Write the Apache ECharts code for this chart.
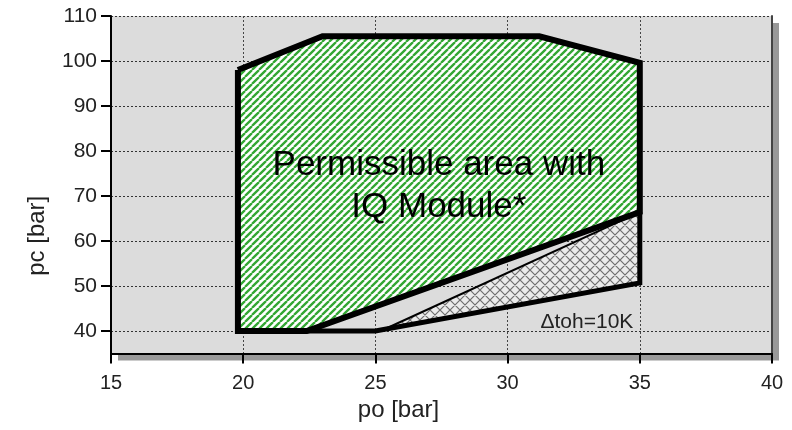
<!DOCTYPE html>
<html>
<head>
<meta charset="utf-8">
<script src="https://cdn.jsdelivr.net/npm/echarts@6.0.0/dist/echarts.min.js"></script>
<style>
  html, body { margin: 0; padding: 0; background: #fff; }
  #chart { width: 792px; height: 430px; }
</style>
</head>
<body>
<div id="chart"></div>
<script>
// outline of the permissible area (po, pc)
const areaPo = [19.8, 23.0, 31.2, 35.0, 35.0, 22.4, 19.8, 19.8];
const areaPc = [98.0, 105.5, 105.5, 99.6, 66.4, 40.0, 40.0, 98.0];

// cross hatched zone (dtoh = 10K)
const zonePo = [25.2, 35.0, 35.0, 25.0];
const zonePc = [40.0, 66.4, 50.7, 40.0];

// lower limit line and thin upper edge of the zone
const lowerPo = [22.4, 25.0, 35.0, 35.0];
const lowerPc = [40.0, 40.0, 50.7, 66.4];
const edgePo = [25.2, 35.0];
const edgePc = [40.0, 66.4];

const pcTicks = [40, 50, 60, 70, 80, 90, 100, 110];

// annotations: anchor (po, pc) and text
const notePo = [27.4, 33.0];
const notePc = [72.2, 42.0];
const noteText = ['Permissible area with\nIQ Module*', 'Δtoh=10K'];

const font = 'Liberation Sans, Arial, sans-serif';

const pairs = (xs, ys) => xs.map((x, i) => [x, ys[i]]);

function makeHatch(size, bg, color, width, both) {
    const c = document.createElement('canvas');
    c.width = c.height = size;
    const g = c.getContext('2d');
    g.fillStyle = bg;
    g.fillRect(0, 0, size, size);
    g.strokeStyle = color;
    g.lineWidth = width;
    g.beginPath();
    for (const o of [-size, 0, size]) {
        g.moveTo(o, size);
        g.lineTo(o + size, 0);
    }
    if (both) {
        for (const o of [-size, 0, size]) {
            g.moveTo(o, 0);
            g.lineTo(o + size, size);
        }
    }
    g.stroke();
    return { image: c, repeat: 'repeat' };
}

const greenHatch = makeHatch(7, '#ffffff', '#33a633', 2.3, false);
const greyHatch = makeHatch(10, '#ebebeb', '#6e6e6e', 1.2, true);

function polygon(fill) {
    return (params, api) => {
        if (params.dataIndex !== 0) return;
        const pts = [];
        for (let i = 0; i < params.dataInsideLength; i++) {
            pts.push(api.coord([api.value(0, i), api.value(1, i)]));
        }
        return { type: 'polygon', shape: { points: pts }, style: { fill: fill } };
    };
}

function note(params, api) {
    const p = api.coord([api.value(0), api.value(1)]);
    const big = params.dataIndex === 0;
    return {
        type: 'text', x: p[0], y: p[1],
        style: {
            text: noteText[params.dataIndex],
            fill: big ? '#000' : '#222',
            font: (big ? 35 : 21) + 'px ' + font,
            lineHeight: big ? 42 : 21,
            align: 'center', verticalAlign: 'middle'
        }
    };
}

const myChart = echarts.init(document.getElementById('chart'));

const option = {
    animation: false,
    grid: {
        left: 111, right: 20, top: 16, bottom: 76.5,
        show: true,
        backgroundColor: '#dcdcdc',
        borderWidth: 0,
        shadowColor: '#999',
        shadowOffsetX: 7,
        shadowOffsetY: 7,
        shadowBlur: 0
    },
    xAxis: {
        type: 'value', min: 15, max: 40, interval: 5,
        axisLine: { show: true, onZero: false, lineStyle: { color: '#000', width: 2 } },
        axisTick: { show: true, length: 10, lineStyle: { color: '#000', width: 2 } },
        axisLabel: { margin: 20, fontSize: 20, color: '#222', fontFamily: font },
        splitLine: { show: true, lineStyle: { color: '#444', type: [2, 2], width: 1 } },
        name: 'po [bar]', nameLocation: 'middle', nameGap: 42,
        nameTextStyle: { fontSize: 24, color: '#222', fontFamily: font, padding: [0, 86, 0, 0] }
    },
    yAxis: [
        {
            type: 'value', min: 35, max: 110,
            axisLine: { show: true, onZero: false, lineStyle: { color: '#000', width: 2 } },
            axisTick: { show: true, length: 10, customValues: pcTicks, lineStyle: { color: '#000', width: 2 } },
            axisLabel: { margin: 14, fontSize: 21, color: '#222', fontFamily: font, customValues: pcTicks },
            splitLine: { show: true, lineStyle: { color: '#333', type: [2, 2], width: 1 } },
            name: 'pc [bar]', nameLocation: 'middle', nameGap: 62, nameRotate: 90,
            nameTextStyle: { fontSize: 24, color: '#222', fontFamily: font, padding: [0, 102, 0, 0] }
        },
        {
            // solid right frame edge
            type: 'value', min: 35, max: 110, position: 'right',
            axisLine: { show: true, onZero: false, lineStyle: { color: '#444', width: 2 } },
            axisTick: { show: false },
            axisLabel: { show: false },
            splitLine: { show: false }
        }
    ],
    series: [
        {
            type: 'custom', renderItem: polygon(greenHatch), data: pairs(areaPo, areaPc),
            encode: { x: 0, y: 1 }, silent: true, z: 2
        },
        {
            type: 'custom', renderItem: polygon(greyHatch), data: pairs(zonePo, zonePc),
            encode: { x: 0, y: 1 }, silent: true, z: 2
        },
        {
            type: 'line', data: pairs(edgePo, edgePc), symbol: 'none', z: 3,
            lineStyle: { color: '#000', width: 2 }
        },
        {
            type: 'line', data: pairs(lowerPo, lowerPc), symbol: 'none', z: 4,
            lineStyle: { color: '#000', width: 5, join: 'miter' }
        },
        {
            type: 'line', data: pairs(areaPo, areaPc), symbol: 'none', z: 5,
            lineStyle: { color: '#000', width: 6, join: 'miter' }
        },
        {
            type: 'custom', renderItem: note, data: pairs(notePo, notePc),
            encode: { x: 0, y: 1 }, silent: true, z: 6
        }
    ]
};

myChart.setOption(option);
window.addEventListener('resize', function () {
    myChart.resize();
});
</script>
</body>
</html>
